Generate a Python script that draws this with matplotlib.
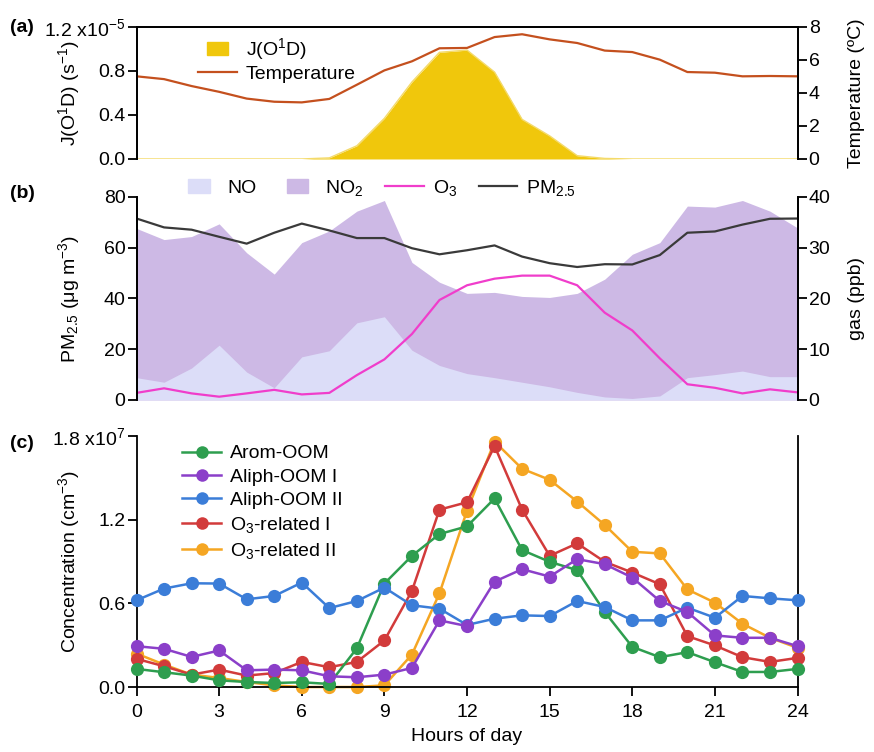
import matplotlib
matplotlib.use("Agg")
import matplotlib.pyplot as plt
import matplotlib.patches as mpatches
from matplotlib.legend_handler import HandlerPatch
from matplotlib.lines import Line2D

HOURS = list(range(25))

# (a) J(O1D) in units of 1e-5 s-1, temperature in degC
J_O1D = [0, 0, 0, 0, 0, 0, 0, 0.01, 0.12, 0.37, 0.70, 0.97, 0.99, 0.79, 0.36,
         0.21, 0.03, 0.005, 0, 0, 0, 0, 0, 0, 0]
TEMP = [5.01, 4.84, 4.42, 4.07, 3.66, 3.47, 3.43, 3.64, 4.50, 5.37, 5.92, 6.71,
        6.73, 7.39, 7.56, 7.25, 7.03, 6.57, 6.48, 6.02, 5.27, 5.23, 5.01, 5.03, 5.01]

# (b) PM2.5 in ug m-3, gases in ppb
PM25 = [71.5, 68.0, 67.1, 64.3, 61.6, 65.9, 69.5, 66.8, 63.8, 63.8, 59.8, 57.4,
        59.0, 60.9, 56.5, 53.9, 52.4, 53.5, 53.4, 57.1, 65.9, 66.4, 69.1, 71.4, 71.5]
NO2 = [33.8, 31.6, 32.2, 34.7, 29.0, 24.8, 31.0, 33.3, 37.2, 39.3, 27.1, 23.2,
       21.0, 21.2, 20.4, 20.2, 21.0, 23.8, 28.7, 31.0, 38.2, 38.0, 39.3, 37.2, 33.9]
NO = [4.4, 3.5, 6.3, 10.8, 5.5, 2.4, 8.5, 9.7, 15.2, 16.4, 9.8, 6.8,
      5.2, 4.4, 3.5, 2.6, 1.5, 0.6, 0.3, 0.8, 4.4, 5.0, 5.7, 4.6, 4.6]
O3 = [1.4, 2.3, 1.3, 0.65, 1.3, 2.0, 1.1, 1.4, 4.9, 8.0, 13.0, 19.7,
      22.6, 23.9, 24.5, 24.5, 22.6, 17.2, 13.7, 8.2, 3.1, 2.4, 1.3, 2.1, 1.5]

# (c) concentrations in units of 1e7 cm-3
AROM = [0.130, 0.106, 0.082, 0.048, 0.036, 0.029, 0.034, 0.022, 0.278, 0.742,
        0.941, 1.097, 1.152, 1.352, 0.982, 0.898, 0.838, 0.538, 0.288, 0.214,
        0.250, 0.178, 0.108, 0.108, 0.130]
ALIPH1 = [0.293, 0.274, 0.216, 0.262, 0.120, 0.125, 0.120, 0.077, 0.070, 0.089,
          0.137, 0.478, 0.437, 0.756, 0.845, 0.792, 0.917, 0.881, 0.785, 0.617,
          0.538, 0.370, 0.353, 0.353, 0.293]
ALIPH2 = [0.622, 0.706, 0.744, 0.742, 0.629, 0.653, 0.749, 0.566, 0.617, 0.713,
          0.586, 0.562, 0.445, 0.490, 0.514, 0.509, 0.617, 0.574, 0.478, 0.478,
          0.569, 0.497, 0.653, 0.636, 0.622]
O3REL1 = [0.202, 0.149, 0.089, 0.125, 0.082, 0.100, 0.180, 0.142, 0.180, 0.334,
          0.689, 1.272, 1.325, 1.728, 1.272, 0.941, 1.030, 0.898, 0.821, 0.737,
          0.365, 0.298, 0.214, 0.180, 0.209]
O3REL2 = [0.240, 0.161, 0.089, 0.065, 0.036, 0.012, 0.0, 0.0, 0.0, 0.012,
          0.233, 0.672, 1.265, 1.760, 1.565, 1.486, 1.330, 1.162, 0.970, 0.958,
          0.700, 0.605, 0.454, 0.353, 0.281]

C_J = "#F0C70C"
C_TEMP = "#C4501E"
C_NO = "#DCDDF8"
C_NO2 = "#CDB9E5"
C_O3 = "#F03DCB"
C_PM = "#3A3A3A"

SERIES_C = [
    ("Arom-OOM", AROM, "#2E9E4F", 4),
    ("Aliph-OOM I", ALIPH1, "#8B3FC9", 6),
    ("Aliph-OOM II", ALIPH2, "#3B7DD8", 5),
    ("O$_3$-related I", O3REL1, "#D23B3B", 3),
    ("O$_3$-related II", O3REL2, "#F5A623", 2),
]

plt.rcParams.update({
    "font.family": ["Liberation Sans", "DejaVu Sans"],
    "mathtext.default": "regular",
    "font.size": 14,
    "axes.linewidth": 1.3,
    "xtick.direction": "out",
    "ytick.direction": "out",
    "xtick.major.size": 6.5,
    "ytick.major.size": 6.5,
    "xtick.major.width": 1.3,
    "ytick.major.width": 1.3,
    "ytick.major.pad": 1.5,
    "xtick.major.pad": 6,
})


def narrow_patch(legend, orig_handle, xdescent, ydescent, width, height, fontsize):
    w = 0.55 * width
    return mpatches.Rectangle((-xdescent + (width - w) / 2, -ydescent), w, height)


PATCH_HANDLER = {mpatches.Patch: HandlerPatch(patch_func=narrow_patch)}
LEG = dict(frameon=False, borderpad=0, borderaxespad=0, handlelength=2.0,
           handletextpad=0.45)

fig = plt.figure(figsize=(8.74, 7.52), dpi=100)
L, W = 0.1562, 0.7563
ax_a = fig.add_axes([L, 0.7886, W, 0.1755])
ax_b = fig.add_axes([L, 0.4681, W, 0.2700])
ax_c = fig.add_axes([L, 0.0864, W, 0.3338])

# ---- (a)
ax_a.fill_between(HOURS, 0, J_O1D, color=C_J, linewidth=0)
ax_a.plot(HOURS, J_O1D, color="#F4DA6A", linewidth=1.0)
ax_a.set_xlim(0, 24)
ax_a.set_ylim(0, 1.2)
ax_a.set_yticks([0, 0.4, 0.8, 1.2])
ax_a.set_yticklabels(["0.0", "0.4", "0.8", "1.2 x10$^{-5}$"])
ax_a.set_ylabel("J(O$^1$D) (s$^{-1}$)")
ax_a.spines["bottom"].set_visible(False)
ax_a.tick_params(axis="x", bottom=False, labelbottom=False)

ax_a2 = ax_a.twinx()
ax_a2.plot(HOURS, TEMP, color=C_TEMP, linewidth=1.6)
ax_a2.set_ylim(0, 8)
ax_a2.set_yticks([0, 2, 4, 6, 8])
ax_a2.set_ylabel("Temperature (ºC)")
ax_a2.spines["bottom"].set_visible(False)
ax_a2.tick_params(axis="x", bottom=False, labelbottom=False)
ax_a.yaxis.set_label_coords(-0.083, 0.5)
ax_a2.yaxis.set_label_coords(1.076, 0.5)

h_a = [mpatches.Patch(color=C_J, label="J(O$^1$D)"),
       Line2D([], [], color=C_TEMP, linewidth=1.6, label="Temperature")]
ax_a2.legend(handles=h_a, loc="upper left", bbox_to_anchor=(0.093, 0.93),
             labelspacing=0.15, handler_map=PATCH_HANDLER, **LEG)

# ---- (b)  gas on main axes (right side), PM2.5 on twin (left side)
ax_b.fill_between(HOURS, 0, NO2, color=C_NO2, linewidth=0)
ax_b.fill_between(HOURS, 0, NO, color=C_NO, linewidth=0)
ax_b.plot(HOURS, O3, color=C_O3, linewidth=1.6)
ax_b.set_xlim(0, 24)
ax_b.set_ylim(0, 40)
ax_b.tick_params(axis="x", bottom=False, labelbottom=False)

ax_b2 = ax_b.twinx()
ax_b2.plot(HOURS, PM25, color=C_PM, linewidth=1.6)
ax_b2.set_ylim(0, 80)
ax_b2.set_yticks([0, 20, 40, 60, 80])
ax_b2.yaxis.tick_left()
ax_b2.yaxis.set_label_position("left")
ax_b2.set_ylabel("PM$_{2.5}$ (μg m$^{-3}$)")
ax_b2.tick_params(axis="x", bottom=False, labelbottom=False)

ax_b.yaxis.tick_right()
ax_b.yaxis.set_label_position("right")
ax_b.set_yticks([0, 10, 20, 30, 40])
ax_b.set_ylabel("gas (ppb)")
ax_b.yaxis.set_label_coords(1.076, 0.5)
ax_b2.yaxis.set_label_coords(-0.083, 0.5)
for a in (ax_b, ax_b2):
    a.spines["top"].set_visible(False)
    a.spines["bottom"].set_visible(False)

h_b = [mpatches.Patch(color=C_NO, label="NO"),
       mpatches.Patch(color=C_NO2, label="NO$_2$"),
       Line2D([], [], color=C_O3, linewidth=1.6, label="O$_3$"),
       Line2D([], [], color=C_PM, linewidth=1.6, label="PM$_{2.5}$")]
ax_b2.legend(handles=h_b, loc="center", bbox_to_anchor=(0.365, 1.045), ncol=4,
             columnspacing=1.1, handler_map=PATCH_HANDLER, **LEG)

# ---- (c)
for label, vals, col, z in SERIES_C:
    ax_c.plot(HOURS, vals, color=col, linewidth=1.8, marker="o", markersize=9.5,
              markeredgewidth=0, label=label, zorder=z, clip_on=False)
ax_c.set_xlim(0, 24)
ax_c.set_ylim(0, 1.8)
ax_c.set_xticks(range(0, 25, 3))
ax_c.set_yticks([0, 0.6, 1.2, 1.8])
ax_c.set_yticklabels(["0.0", "0.6", "1.2", "1.8 x10$^{7}$"])
ax_c.set_xlabel("Hours of day", labelpad=5)
ax_c.set_ylabel("Concentration (cm$^{-3}$)")
ax_c.yaxis.set_label_coords(-0.083, 0.5)
ax_c.spines["top"].set_visible(False)
ax_c.legend(loc="upper left", bbox_to_anchor=(0.069, 0.965), labelspacing=0.3,
            markerscale=0.95, **LEG)

fig.text(0.011, 0.964, "(a)", weight="bold", va="center", ha="left")
fig.text(0.011, 0.743, "(b)", weight="bold", va="center", ha="left")
fig.text(0.011, 0.410, "(c)", weight="bold", va="center", ha="left")

fig.savefig("out.png", dpi=100)
